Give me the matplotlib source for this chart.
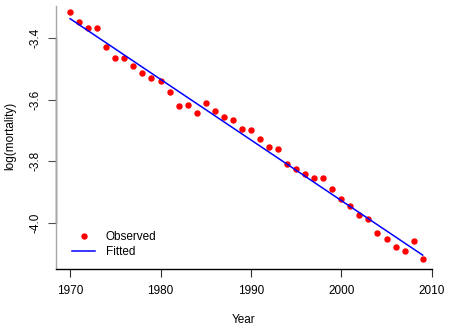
import matplotlib
matplotlib.use("Agg")
import matplotlib.pyplot as plt
import numpy as np

plt.rcParams['font.family'] = ['Liberation Sans', 'DejaVu Sans']

# observed log(mortality) by year
years = np.arange(1970, 2010)
log_mort = [-3.316, -3.348, -3.370, -3.370, -3.430, -3.465, -3.465, -3.492,
            -3.515, -3.531, -3.540, -3.577, -3.621, -3.619, -3.644, -3.610,
            -3.638, -3.657, -3.665, -3.696, -3.698, -3.728, -3.754, -3.759,
            -3.808, -3.824, -3.841, -3.855, -3.854, -3.890, -3.922, -3.945,
            -3.973, -3.987, -4.032, -4.052, -4.078, -4.090, -4.058, -4.115]
x_ticks = [1970, 1980, 1990, 2000, 2010]
y_ticks = [-3.4, -3.6, -3.8, -4.0]

# straight-line fit
coef = np.polyfit(years, log_mort, 1)
fitted = np.polyval(coef, years)

W, H = 451, 328
fig = plt.figure(figsize=(W / 100, H / 100), dpi=100)
ax = fig.add_axes([56 / W, 1 - 269 / H, (431.7 - 56) / W, (269 - 6) / H])

ax.plot(years, log_mort, 'o', color='#ff0000', markersize=3.6, label='Observed')
ax.plot(years, fitted, '-', color='#0000ff', linewidth=1.1, label='Fitted')

ax.set_xlim(1968.44, 2010)
ax.set_ylim(-4.148, -3.2975)
ax.set_xticks(x_ticks)
ax.set_yticks(y_ticks)
ax.set_xticklabels([str(t) for t in x_ticks], fontsize=8.5)
ax.set_yticklabels(['%.1f' % t for t in y_ticks], fontsize=8.5, rotation=90, va='center')

for s in ['top', 'right']:
    ax.spines[s].set_visible(False)
ax.spines['left'].set_color('#a8a8a8')
ax.spines['left'].set_linewidth(1.0)
ax.spines['bottom'].set_color('black')
ax.spines['bottom'].set_linewidth(1.0)
# R-style axis line between first and last y tick
ax.plot([0, 0], [y_ticks[0], y_ticks[-1]], color='#505050', linewidth=1.0,
        transform=ax.get_yaxis_transform(), clip_on=False)

ax.tick_params(axis='both', direction='out', length=5.5, width=0.8)
ax.tick_params(axis='y', colors='#505050', labelcolor='black', pad=5)
ax.tick_params(axis='x', colors='#303030', labelcolor='black', pad=6)

fig.text(244 / W, 1 - 320 / H, 'Year', fontsize=8.5, ha='center', va='center')
fig.text(10 / W, 1 - 136 / H, 'log(mortality)', fontsize=8.5, ha='center',
         va='center', rotation=90)

ax.legend(loc='upper left', bbox_to_anchor=(72 / W, 1 - 231 / H),
          bbox_transform=fig.transFigure, frameon=False, fontsize=8.5,
          borderpad=0, borderaxespad=0, handlelength=1.95, handletextpad=0.9,
          labelspacing=0.25, numpoints=1)

fig.savefig('out.png', dpi=100)
